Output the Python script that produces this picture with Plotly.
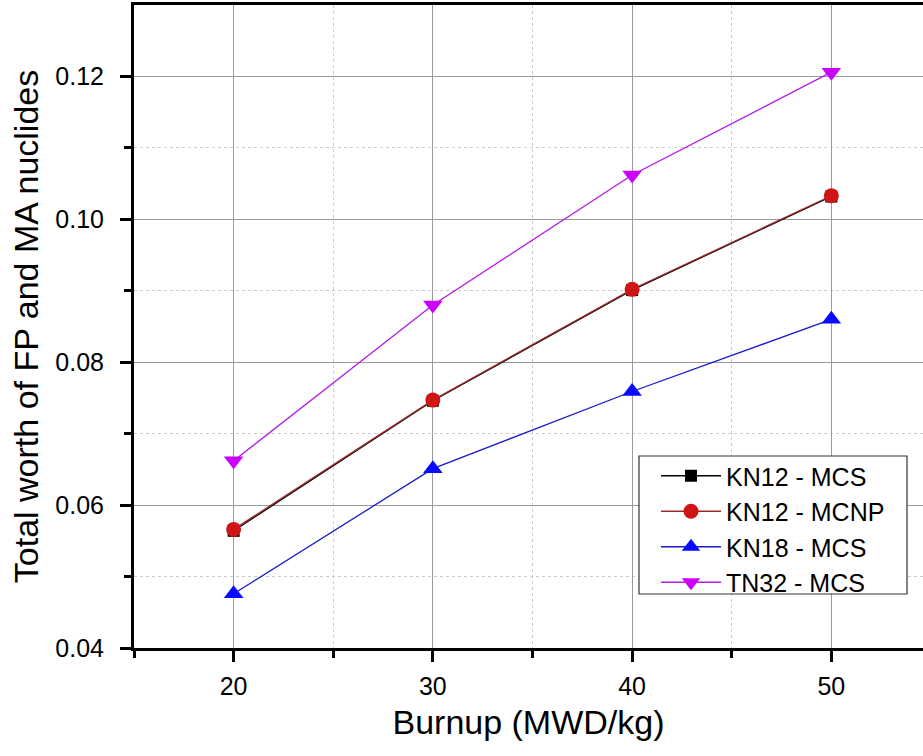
import plotly.graph_objects as go

burnup = [20, 30, 40, 50]
kn12_mcs = [0.0564, 0.0746, 0.0901, 0.1032]
kn12_mcnp = [0.0566, 0.0747, 0.0902, 0.1033]
kn18_mcs = [0.0476, 0.0651, 0.0759, 0.0860]
tn32_mcs = [0.0662, 0.0880, 0.1062, 0.1206]

x_ticks = [20, 30, 40, 50]
y_ticks = [0.04, 0.06, 0.08, 0.10, 0.12]
y_labels = ["0.04", "0.06", "0.08", "0.10", "0.12"]

FONT = "Arial, Liberation Sans, sans-serif"

fig = go.Figure()
fig.add_trace(go.Scatter(x=burnup, y=kn12_mcs, mode="lines+markers", name="KN12 - MCS",
                         line=dict(color="#000000", width=1.3),
                         marker=dict(symbol="square", size=12, color="#000000")))
fig.add_trace(go.Scatter(x=burnup, y=kn12_mcnp, mode="lines+markers", name="KN12 - MCNP",
                         line=dict(color="#9a2a2a", width=1.3),
                         marker=dict(symbol="circle", size=15, color="#d01515")))
fig.add_trace(go.Scatter(x=burnup, y=kn18_mcs, mode="lines+markers", name="KN18 - MCS",
                         line=dict(color="#1a1acc", width=1.3),
                         marker=dict(symbol="triangle-up", size=17, color="#0a0aff")))
fig.add_trace(go.Scatter(x=burnup, y=tn32_mcs, mode="lines+markers", name="TN32 - MCS",
                         line=dict(color="#b31ae6", width=1.3),
                         marker=dict(symbol="triangle-down", size=17, color="#cc00ff")))

# legend frame drawn as a shape (paper coords)
fig.add_shape(type="rect", xref="paper", yref="paper",
              x0=(639 - 134) / 789, x1=(907 - 134) / 789,
              y0=(648 - 594) / 643, y1=(648 - 456) / 643,
              line=dict(color="#333333", width=1.2), fillcolor="white", layer="above")

fig.update_layout(
    width=923, height=756,
    margin=dict(l=134, r=0, t=5, b=108),
    paper_bgcolor="white", plot_bgcolor="white",
    font=dict(family=FONT, color="black"),
    showlegend=True,
    legend=dict(x=(656 - 134) / 789, y=(648 - 453) / 643, xanchor="left", yanchor="top",
                bgcolor="rgba(0,0,0,0)", borderwidth=0,
                font=dict(family=FONT, size=25, color="black"),
                tracegroupgap=0, itemwidth=60),
)

fig.update_xaxes(
    range=[15, 54.6], automargin=False,
    tickmode="array", tickvals=x_ticks, ticktext=[str(v) for v in x_ticks],
    ticks="outside", ticklen=11, tickwidth=2.5, tickcolor="black",
    tickfont=dict(family=FONT, size=25, color="black"),
    ticklabelstandoff=3,
    showline=True, linecolor="black", linewidth=3, mirror=True,
    showgrid=True, gridcolor="#9a9a9a", gridwidth=1.2,
    zeroline=False,
    minor=dict(tickmode="array", tickvals=[15, 25, 35, 45], ticks="outside", ticklen=7,
               tickwidth=2.5, tickcolor="black", showgrid=True,
               gridcolor="#cccccc", griddash="dot", gridwidth=1),
    title=dict(text="Burnup (MWD/kg)", font=dict(family=FONT, size=34, color="black"),
               standoff=12),
)

fig.update_yaxes(
    range=[0.04, 0.13], automargin=False,
    tickmode="array", tickvals=y_ticks, ticktext=y_labels,
    ticks="outside", ticklen=11, tickwidth=2.5, tickcolor="black",
    tickfont=dict(family=FONT, size=25, color="black"),
    ticklabelstandoff=11,
    showline=True, linecolor="black", linewidth=3, mirror=False,
    showgrid=True, gridcolor="#9a9a9a", gridwidth=1.2,
    zeroline=False,
    minor=dict(tickmode="array", tickvals=[0.05, 0.07, 0.09, 0.11], ticks="outside", ticklen=7,
               tickwidth=2.5, tickcolor="black", showgrid=True,
               gridcolor="#cccccc", griddash="dot", gridwidth=1),
    title=dict(text="Total worth of FP and MA nuclides", font=dict(family=FONT, size=34, color="black"),
               standoff=7),
)

fig.write_html("out.html", config={"displayModeBar": False},
               post_script="document.body.style.margin='0';")
